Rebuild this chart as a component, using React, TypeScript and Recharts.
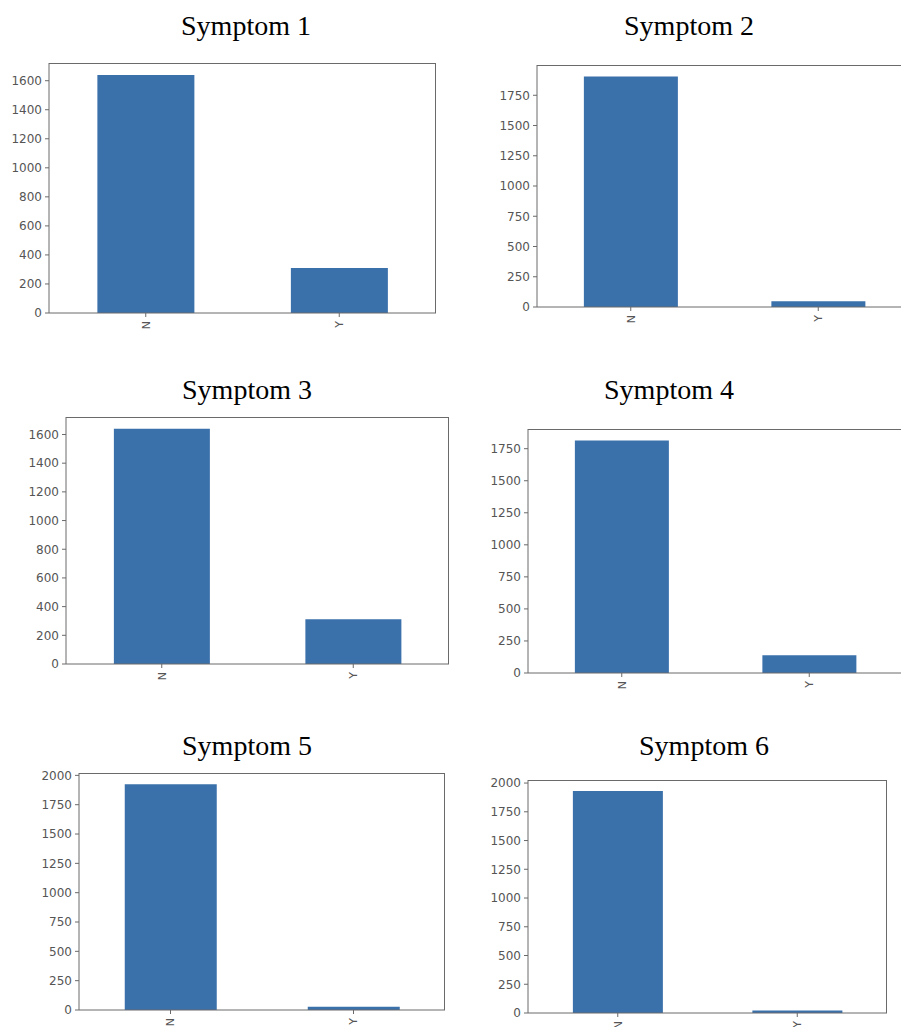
import { Bar, BarChart, XAxis, YAxis } from 'recharts'

const categories = ['N', 'Y']
const titles = ['Symptom 1', 'Symptom 2', 'Symptom 3', 'Symptom 4', 'Symptom 5', 'Symptom 6']

const symptom1 = [1640, 310]
const symptom2 = [1905, 47]
const symptom3 = [1640, 312]
const symptom4 = [1813, 139]
const symptom5 = [1924, 28]
const symptom6 = [1930, 22]

const ticks200 = [0, 200, 400, 600, 800, 1000, 1200, 1400, 1600]
const ticks250 = [0, 250, 500, 750, 1000, 1250, 1500, 1750]
const ticks250to2000 = [0, 250, 500, 750, 1000, 1250, 1500, 1750, 2000]

const seriesList = [symptom1, symptom2, symptom3, symptom4, symptom5, symptom6]
const tickList = [ticks200, ticks250, ticks200, ticks250, ticks250to2000, ticks250to2000]

// frame box of each plot and where its title sits (page pixels)
const layout = [
  { left: 49, top: 63, right: 436, bottom: 313, titleX: 246, titleBase: 35 },
  { left: 537, top: 65, right: 912, bottom: 307, titleX: 689, titleBase: 35 },
  { left: 66, top: 417, right: 449, bottom: 664, titleX: 247, titleBase: 399 },
  { left: 528, top: 429, right: 903, bottom: 673, titleX: 669, titleBase: 399 },
  { left: 79, top: 773, right: 445, bottom: 1010, titleX: 247, titleBase: 755 },
  { left: 528, top: 780, right: 887, bottom: 1013, titleX: 704, titleBase: 755 },
]

const BAR = '#3a71ab'
const FRAME = '#6a6a6a'
const TICK_TEXT = '#555'
const GUTTER = 60
const PAD = 5
const XAXIS_H = 30

function RotatedTick(props: any) {
  const { x, y, payload } = props
  return (
    <text
      x={x}
      y={y}
      transform={`rotate(-90, ${x}, ${y})`}
      textAnchor="end"
      dy="0.36em"
      fontSize={11}
      fontFamily="DejaVu Sans"
      fill={TICK_TEXT}
    >
      {payload.value}
    </text>
  )
}

function Panel({ idx }: { idx: number }) {
  const box = layout[idx]
  const data = categories.map((c, i) => ({ label: c, count: seriesList[idx][i] }))
  const fw = box.right - box.left
  const fh = box.bottom - box.top
  return (
    <>
      <div
        style={{
          position: 'absolute',
          left: box.titleX - 150,
          top: box.titleBase - 23.5,
          width: 300,
          textAlign: 'center',
          fontFamily: 'Liberation Serif',
          fontSize: 28,
          lineHeight: '28px',
          color: '#000',
          whiteSpace: 'nowrap',
        }}
      >
        {titles[idx]}
      </div>
      <div style={{ position: 'absolute', left: box.left - GUTTER, top: box.top - PAD }}>
        <BarChart
          width={fw + GUTTER + PAD}
          height={fh + PAD + XAXIS_H}
          data={data}
          margin={{ top: PAD, right: PAD, bottom: 0, left: 0 }}
          barCategoryGap="25%"
        >
          <XAxis
            dataKey="label"
            height={XAXIS_H}
            stroke={FRAME}
            tickSize={4}
            tickMargin={4}
            tick={<RotatedTick />}
            interval={0}
          />
          <YAxis
            width={GUTTER}
            stroke={FRAME}
            domain={[0, (dataMax: number) => dataMax * 1.05]}
            ticks={tickList[idx]}
            interval={0}
            tickSize={4}
            tickMargin={3}
            tick={{ fontSize: 12, fontFamily: 'DejaVu Sans', fill: TICK_TEXT }}
          />
          <Bar dataKey="count" fill={BAR} isAnimationActive={false} />
        </BarChart>
      </div>
      {/* top and right sides of the axes box */}
      <div
        style={{
          position: 'absolute',
          left: box.left,
          top: box.top,
          width: fw,
          height: fh,
          boxSizing: 'border-box',
          borderTop: `1px solid ${FRAME}`,
          borderRight: `1px solid ${FRAME}`,
          pointerEvents: 'none',
        }}
      />
    </>
  )
}

export default function App() {
  return (
    <div
      style={{
        position: 'absolute',
        left: 0,
        top: 0,
        width: 901,
        height: 1027,
        overflow: 'hidden',
        background: '#fff',
      }}
    >
      {titles.map((_, i) => (
        <Panel key={i} idx={i} />
      ))}
    </div>
  )
}
